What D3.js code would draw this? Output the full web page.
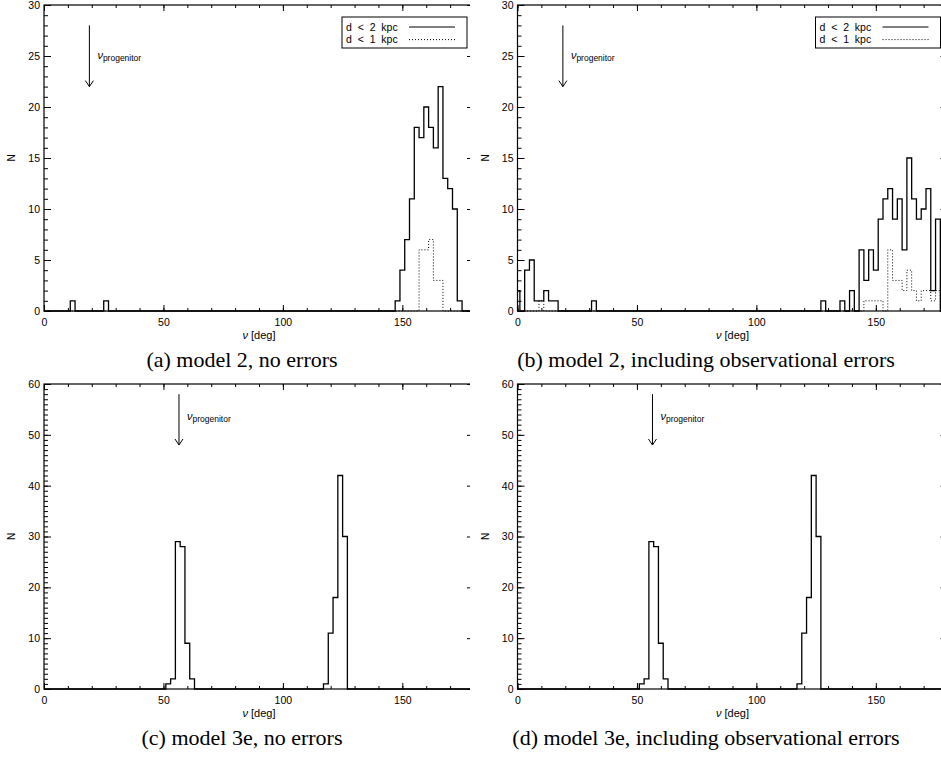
<!DOCTYPE html>
<html>
<head>
<meta charset="utf-8">
<script src="https://cdn.jsdelivr.net/npm/d3@7"></script>
<style>
body{margin:0;background:#fff;}
svg{display:block;}
</style>
</head>
<body>
<div class="container"></div>
<script>
var width=941, height=760;

// histograms: left edge of each 2 deg bin (deg) and the count N in it
var binWidth=2;

// (a) model 2, no errors
var aD2Bins=[11,25,147,149,151,153,155,157,159,161,163,165,167,169,171,173];
var aD2N   =[1, 1, 1,  4,  7,  11, 18, 17, 20, 18, 16, 22, 13, 12, 10, 1];
var aD1Bins=[157,159,161,163,165];
var aD1N   =[6,  6,  7,  3,  3];

// (b) model 2, including observational errors
var bD2Bins=[-1,3,5,7,9,11,13,15,31,127,135,139,143,145,147,149,151,153,155,157,159,161,163,165,167,169,171,173,175];
var bD2N   =[2, 4,5,1,1,2, 1, 1, 1, 1,  1,  2,  6,  3,  6,  4,  9,  11, 12, 9,  11, 6,  15, 11, 9,  10, 12, 2,  9];
var bD1Bins=[9,145,147,149,151,155,157,159,161,163,165,167,169,171,173,175];
var bD1N   =[1,1,  1,  1,  1,  6,  3,  3,  2,  4,  2,  1,  2,  2,  1,  2];

// (c) model 3e, no errors
var cBins=[51,53,55,57,59,61,117,119,121,123,125];
var cN   =[1, 2, 29,28,9, 2, 1,  11, 18, 42, 30];

// (d) model 3e, including observational errors
var dBins=[51,53,55,57,59,61,117,119,121,123,125];
var dN   =[1, 2, 29,28,9, 2, 1,  11, 18, 42, 30];

var captions=["(a) model 2, no errors","(b) model 2, including observational errors",
              "(c) model 3e, no errors","(d) model 3e, including observational errors"];
var legendLabels=["d  <  2  kpc","d  <  1  kpc"];
var xMajorTicks=[0,50,100,150];
var yMaxes=[30,30,60,60];
var yMajorSteps=[5,5,10,10];
var progenitorNu=[19,19,56.5,56.5];
var arrowFromN=[28,28,58,58];
var arrowToN=[22,22,48,48];
var progLabelN=[25,25,53.5,53.5];

var panels=[
  {left:44,   top:5,   bottom:311, clipX0:0,   clipX1:470, capX:242, capY:367, solid:[aD2Bins,aD2N], dotted:[aD1Bins,aD1N]},
  {left:517.5,top:5,   bottom:311, clipX0:470, clipX1:941, capX:706, capY:367, solid:[bD2Bins,bD2N], dotted:[bD1Bins,bD1N]},
  {left:44,   top:384, bottom:689, clipX0:0,   clipX1:470, capX:242, capY:745, solid:[cBins,cN]},
  {left:517.5,top:384, bottom:689, clipX0:470, clipX1:941, capX:706, capY:745, solid:[dBins,dN]}
];
var plotW=430;
var sans="'Liberation Sans', Arial, Helvetica, sans-serif";

var svg=d3.select(".container").append("svg").attr("width",width).attr("height",height);
var defs=svg.append("defs");

function fullCounts(bins,counts){
  var m=new Map();
  bins.forEach(function(b,k){ m.set(b,counts[k]); });
  return d3.range(-1,181,binWidth).map(function(e){ return {x0:e,n:m.get(e)||0}; });
}

function stepPoints(bins,counts){
  var full=fullCounts(bins,counts);
  var pts=[[full[0].x0,0]];
  full.forEach(function(b){ pts.push([b.x0,b.n]); });
  pts.push([full[full.length-1].x0+binWidth,0]);
  return pts;
}

function drawPanel(p,i){
  defs.append("clipPath").attr("id","pclip"+i).append("rect")
      .attr("x",p.clipX0).attr("y",0).attr("width",p.clipX1-p.clipX0).attr("height",height);
  defs.append("clipPath").attr("id","aclip"+i).append("rect")
      .attr("x",p.left).attr("y",p.top-1).attr("width",plotW).attr("height",p.bottom-p.top+2);

  var g=svg.append("g").attr("clip-path","url(#pclip"+i+")");
  var x=d3.scaleLinear().domain([0,180]).range([p.left,p.left+plotW]);
  var y=d3.scaleLinear().domain([0,yMaxes[i]]).range([p.bottom,p.top]);

  var xMinor=d3.range(0,181,10);
  var yMinor=d3.range(0,yMaxes[i]+1,1);
  var yMajor=d3.range(0,yMaxes[i]+1,yMajorSteps[i]);

  function clean(sel){ sel.select(".domain").remove(); sel.selectAll("line").attr("stroke","#000"); }

  // minor ticks
  g.append("g").attr("transform","translate(0,"+p.bottom+")").call(d3.axisBottom(x).tickValues(xMinor).tickSize(-3).tickFormat("")).call(clean);
  g.append("g").attr("transform","translate(0,"+p.top+")").call(d3.axisTop(x).tickValues(xMinor).tickSize(-3).tickFormat("")).call(clean);
  g.append("g").attr("transform","translate("+p.left+",0)").call(d3.axisLeft(y).tickValues(yMinor).tickSize(-4).tickFormat("")).call(clean);
  g.append("g").attr("transform","translate("+(p.left+plotW)+",0)").call(d3.axisRight(y).tickValues(yMinor).tickSize(-4).tickFormat("")).call(clean);

  // major ticks
  var xb=g.append("g").attr("transform","translate(0,"+p.bottom+")")
     .call(d3.axisBottom(x).tickValues(xMajorTicks).tickSize(-6).tickPadding(8)).call(clean);
  g.append("g").attr("transform","translate(0,"+p.top+")").call(d3.axisTop(x).tickValues(xMajorTicks).tickSize(-6).tickFormat("")).call(clean);
  var yl=g.append("g").attr("transform","translate("+p.left+",0)")
     .call(d3.axisLeft(y).tickValues(yMajor).tickSize(-7).tickPadding(4)).call(clean);
  g.append("g").attr("transform","translate("+(p.left+plotW)+",0)").call(d3.axisRight(y).tickValues(yMajor).tickSize(-7).tickFormat("")).call(clean);

  xb.selectAll("text").attr("font-family",sans).attr("font-size","10.5px").attr("fill","#000");
  yl.selectAll("text").attr("font-family",sans).attr("font-size","10.5px").attr("fill","#000");

  // frame
  g.append("rect").attr("x",p.left).attr("y",p.top).attr("width",plotW).attr("height",p.bottom-p.top)
   .attr("fill","none").attr("stroke","#000").attr("stroke-width",1.2);

  // histograms
  var line=d3.line().x(function(d){ return x(d[0]); }).y(function(d){ return y(d[1]); }).curve(d3.curveStepAfter);
  var hg=g.append("g").attr("clip-path","url(#aclip"+i+")");
  if(p.dotted){
    hg.append("path").attr("d",line(stepPoints(p.dotted[0],p.dotted[1])))
      .attr("fill","none").attr("stroke","#000").attr("stroke-width",1).attr("stroke-dasharray","1,2");
  }
  hg.append("path").attr("d",line(stepPoints(p.solid[0],p.solid[1])))
    .attr("fill","none").attr("stroke","#000").attr("stroke-width",1.3);

  // axis titles
  var xt=g.append("text").attr("x",p.left+plotW/2).attr("y",p.bottom+28).attr("text-anchor","middle")
    .attr("font-family",sans).attr("font-size","11px");
  xt.append("tspan").attr("font-style","italic").text("ν");
  xt.append("tspan").text(" [deg]");
  g.append("text").attr("transform","translate("+(p.left-29)+","+((p.top+p.bottom)/2)+") rotate(-90)")
    .attr("text-anchor","middle").attr("font-family",sans).attr("font-size","10px").text("N");

  // progenitor arrow
  var ax=x(progenitorNu[i]), ay0=y(arrowFromN[i]), ay1=y(arrowToN[i]);
  g.append("path").attr("d","M"+ax+","+ay0+"L"+ax+","+ay1+"M"+(ax-4)+","+(ay1-6)+"L"+ax+","+ay1+"L"+(ax+4)+","+(ay1-6))
   .attr("fill","none").attr("stroke","#000").attr("stroke-width",1);
  var pl=g.append("text").attr("x",ax+8).attr("y",y(progLabelN[i])+3).attr("font-family",sans);
  pl.append("tspan").attr("font-style","italic").attr("font-size","11px").text("ν");
  pl.append("tspan").attr("font-size","8.5px").attr("dy",2).text("progenitor");

  // legend
  if(p.dotted){
    var lx=p.left+298, ly=p.top+12;
    g.append("rect").attr("x",lx).attr("y",ly).attr("width",125).attr("height",31)
     .attr("fill","#fff").attr("stroke","#000").attr("stroke-width",1);
    legendLabels.forEach(function(t,k){
      var yy=ly+10+k*12.6;
      g.append("text").attr("x",lx+4).attr("y",yy+3.5).attr("font-family",sans).attr("font-size","10.5px")
       .style("white-space","pre").text(t);
      g.append("line").attr("x1",p.left+365).attr("x2",p.left+411).attr("y1",yy).attr("y2",yy)
       .attr("stroke","#000").attr("stroke-width",1).attr("stroke-dasharray",k==0?null:"1,2");
    });
  }

  // caption
  g.append("text").attr("x",p.capX).attr("y",p.capY).attr("text-anchor","middle")
   .attr("font-family","'Liberation Serif', 'Times New Roman', serif").attr("font-size","22px").text(captions[i]);
}

panels.forEach(drawPanel);
</script>
</body>
</html>
